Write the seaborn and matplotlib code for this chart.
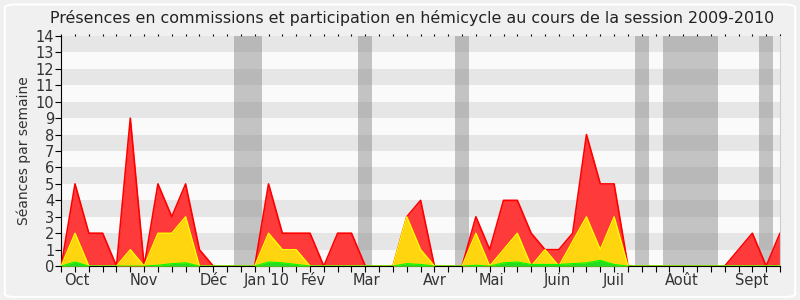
import matplotlib
matplotlib.use("Agg")
import matplotlib.pyplot as plt
import seaborn as sns
import numpy as np
import pandas as pd
from matplotlib.patches import FancyBboxPatch

# Weekly data, session 2009-2010 (53 weeks)
weeks = list(range(53))
total = [0, 5, 2, 2, 0, 9, 0, 5, 3, 5, 1, 0, 0, 0, 0, 5, 2, 2, 2, 0,
         2, 2, 0, 0, 0, 3, 4, 0, 0, 0, 3, 1, 4, 4, 2, 1, 1, 2, 8, 5,
         5, 0, 0, 0, 0, 0, 0, 0, 0, 1, 2, 0, 2]
hemicycle = [0, 2, 0, 0, 0, 1, 0, 2, 2, 3, 0, 0, 0, 0, 0, 2, 1, 1, 0, 0,
             0, 0, 0, 0, 0, 3, 1, 0, 0, 0, 2, 0, 1, 2, 0, 1, 0, 1.5, 3, 1,
             3, 0, 0, 0, 0, 0, 0, 0, 0, 0, 0, 0, 0]
interventions = [0, 0.25, 0, 0, 0, 0, 0, 0.05, 0.15, 0.2, 0, 0, 0, 0, 0, 0.25, 0.2, 0.1, 0, 0,
                 0, 0, 0, 0, 0, 0.15, 0.1, 0, 0, 0, 0.05, 0, 0.2, 0.25, 0.1, 0.1, 0.1, 0.15, 0.2, 0.35,
                 0.1, 0, 0, 0, 0, 0, 0, 0, 0, 0, 0, 0, 0]
vacation_weeks = [13, 14, 22, 29, 42, 44, 45, 46, 47, 51]
month_labels = ["Oct", "Nov", "Déc", "Jan 10", "Fév", "Mar", "Avr", "Mai", "Juin", "Juil", "Août", "Sept"]
month_pos = [1.1, 5.95, 11.0, 14.85, 18.2, 22.1, 27.0, 31.1, 35.9, 39.95, 44.9, 49.95]

df = pd.DataFrame({"week": weeks, "total": total, "hemicycle": hemicycle,
                   "interventions": interventions})

sns.set_style("white")
plt.rcParams["font.family"] = ["DejaVu Sans"]

fig = plt.figure(figsize=(8, 3), dpi=100)
fig.patch.set_facecolor("#f0f0f0")
border = FancyBboxPatch((0.006, 0.01), 0.988, 0.975, boxstyle="round,pad=0,rounding_size=0.012",
                        transform=fig.transFigure, facecolor="#f0f0f0", edgecolor="#ffffff",
                        linewidth=1.5, zorder=-10)
fig.patches.append(border)

ax = fig.add_axes([0.0765, 0.113, 0.8985, 0.767])
ax.set_facecolor("#fafafa")

# horizontal stripes
for y0 in range(1, 14, 2):
    ax.axhspan(y0, y0 + 1, color="#e6e6e6", zorder=0, lw=0)

# vacation bands
for w in vacation_weeks:
    ax.axvspan(w - 0.5, w + 0.5, color="#808080", alpha=0.45, zorder=1, lw=0)

ax.fill_between(df["week"], 0, df["total"], color="#ff3a3a", zorder=2, lw=0)
sns.lineplot(data=df, x="week", y="total", color="#ff0000", lw=1.2, ax=ax, zorder=3)
ax.fill_between(df["week"], 0, df["hemicycle"], color="#ffd50f", zorder=4, lw=0)
sns.lineplot(data=df, x="week", y="hemicycle", color="#ffff00", lw=1.0, ax=ax, zorder=5)
ax.fill_between(df["week"], 0, df["interventions"], color="#22dd22", zorder=6, lw=0)
sns.lineplot(data=df, x="week", y="interventions", color="#00ff00", lw=0.8, ax=ax, zorder=7)

ax.set_xlim(0, 52)
ax.set_ylim(0, 14)

ax.set_yticks(range(0, 15))
ax.set_yticklabels([str(v) for v in range(0, 15)], fontsize=10.5, color="#333333")
ax.set_ylabel("Séances par semaine", fontsize=10, color="#333333", labelpad=3)
ax.set_xlabel("")

ax.set_xticks(weeks)
ax.set_xticklabels([])
ax.tick_params(axis="x", which="major", direction="out", length=4, width=0.8, color="#000000",
               bottom=True, top=True, labelbottom=False)
ax.tick_params(axis="y", direction="out", length=4, width=0.8, color="#000000", left=True, pad=1)
for lab, pos in zip(month_labels, month_pos):
    ax.text(pos, -0.45, lab, ha="center", va="top", fontsize=10.5, color="#333333",
            transform=ax.transData)

ax.spines["top"].set_visible(False)
ax.spines["right"].set_color("#cccccc")
ax.spines["left"].set_color("#000000")
ax.spines["bottom"].set_color("#000000")
for s in ax.spines.values():
    s.set_linewidth(0.8)
for t in ax.xaxis.get_major_ticks():
    t.tick2line.set_markersize(1.5)
    t.tick2line.set_color("#333333")

fig.text(0.515, 0.965, "Présences en commissions et participation en hémicycle au cours de la session 2009-2010",
         ha="center", va="top", fontsize=11.4, color="#222222")

fig.savefig("out.png", dpi=100, facecolor=fig.get_facecolor())
